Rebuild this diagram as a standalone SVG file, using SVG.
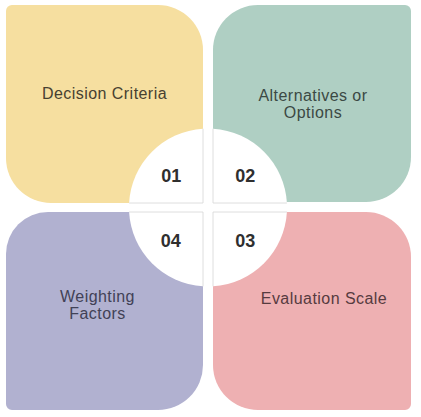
<svg xmlns="http://www.w3.org/2000/svg" width="421" height="417" viewBox="0 0 421 417">
<style>
.lbl{font-family:"Liberation Sans",Arial,sans-serif;font-size:16px;letter-spacing:0.45px;text-anchor:middle}
.num{font-family:"Liberation Sans",Arial,sans-serif;font-size:18px;font-weight:bold;fill:#2f2f2f;text-anchor:middle}
.q{fill:#ffffff}
.edge{stroke:#d6d6d6;stroke-width:0.8;fill:none}
</style>
<rect width="421" height="417" fill="#ffffff"/>
<g id="tile-01">
<path d="M12 5 H158 A45 45 0 0 1 203 50 V203 H51 A45 45 0 0 1 6 158 V11 A6 6 0 0 1 12 5 Z" fill="#F6DFA0"/>
<text class="lbl" x="104.5" y="98.5" fill="#474131">Decision Criteria</text>
</g>
<g id="tile-02">
<path d="M258 5 H405 A6 6 0 0 1 411 11 V157 A45 45 0 0 1 366 202 H213 V50 A45 45 0 0 1 258 5 Z" fill="#AFCFC3"/>
<text class="lbl" x="313" y="100.5" fill="#3b4944">Alternatives or</text>
<text class="lbl" x="313" y="117.5" fill="#3b4944">Options</text>
</g>
<g id="tile-04">
<path d="M48 212 H203 V365 A45 45 0 0 1 158 410 H12 A6 6 0 0 1 6 404 V254 A42 42 0 0 1 48 212 Z" fill="#B1B1D0"/>
<text class="lbl" x="97.5" y="301.5" fill="#414156">Weighting</text>
<text class="lbl" x="97.5" y="318.5" fill="#414156">Factors</text>
</g>
<g id="tile-03">
<path d="M213 212 H366 A45 45 0 0 1 411 257 V404 A6 6 0 0 1 405 410 H258 A45 45 0 0 1 213 365 Z" fill="#EEB0B2"/>
<text class="lbl" x="324" y="303.5" fill="#563b3f">Evaluation Scale</text>
</g>
<g id="center-circle">
<path class="q" d="M203 203 V128.7 A79 79 0 0 0 129.1 203 Z"/>
<path class="q" d="M213 203 V128.7 A79 79 0 0 1 286.9 203 Z"/>
<path class="q" d="M213 212 H286.9 A79 79 0 0 1 213 286.3 Z"/>
<path class="q" d="M203 212 H129.1 A79 79 0 0 0 203 286.3 Z"/>
<path class="edge" d="M129.1 203 H203 V128.7 M213 128.7 V203 H286.9 M286.9 212 H213 V286.3 M203 286.3 V212 H129.1"/>
<text class="num" x="171.3" y="181.7">01</text>
<text class="num" x="245.3" y="181.7">02</text>
<text class="num" x="245.3" y="246.7">03</text>
<text class="num" x="170.8" y="246.7">04</text>
</g>
<g id="connectors"></g>
</svg>
